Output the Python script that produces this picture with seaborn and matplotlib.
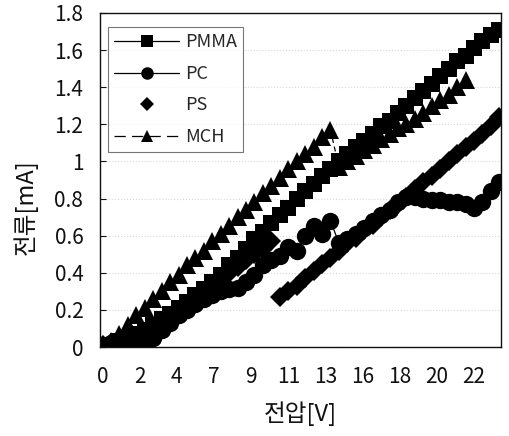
import matplotlib
matplotlib.use("Agg")
import matplotlib.pyplot as plt
import seaborn as sns
import pandas as pd

# ---------------- data ----------------
x_full = [0.0, 0.5, 1.0, 1.5, 2.0, 2.5, 3.0, 3.5, 4.0, 4.5, 5.0, 5.5, 6.0, 6.5, 7.0, 7.5,
          8.0, 8.5, 9.0, 9.5, 10.0, 10.5, 11.0, 11.5, 12.0, 12.5, 13.0, 13.5, 14.0, 14.5,
          15.0, 15.5, 16.0, 16.5, 17.0, 17.5, 18.0, 18.5, 19.0, 19.5, 20.0, 20.5, 21.0,
          21.5, 22.0, 22.5, 23.0, 23.5]
x_mch = [0.0, 0.5, 1.0, 1.5, 2.0, 2.5, 3.0, 3.5, 4.0, 4.5, 5.0, 5.5, 6.0, 6.5, 7.0, 7.5,
         8.0, 8.5, 9.0, 9.5, 10.0, 10.5, 11.0, 11.5, 12.0, 12.5, 13.0, 13.5, 14.0, 14.5,
         15.0, 15.5, 16.0, 16.5, 17.0, 17.5, 18.0, 18.5, 19.0, 19.5, 20.0, 20.5, 21.0, 21.5]

pmma = [0.00, 0.01, 0.03, 0.05, 0.07, 0.09, 0.12, 0.15, 0.18, 0.21, 0.24, 0.28, 0.31, 0.35,
        0.39, 0.44, 0.48, 0.53, 0.58, 0.62, 0.67, 0.71, 0.75, 0.80, 0.84, 0.88, 0.92, 0.96,
        1.00, 1.04, 1.08, 1.11, 1.15, 1.19, 1.22, 1.26, 1.30, 1.34, 1.38, 1.42, 1.46, 1.50,
        1.54, 1.57, 1.61, 1.65, 1.68, 1.71]
pc = [0.00, 0.02, 0.03, 0.04, 0.03, 0.01, 0.05, 0.09, 0.13, 0.17, 0.20, 0.23, 0.26, 0.28,
      0.30, 0.31, 0.32, 0.35, 0.39, 0.44, 0.47, 0.49, 0.54, 0.52, 0.60, 0.65, 0.61, 0.68,
      0.56, 0.58, 0.61, 0.64, 0.68, 0.71, 0.74, 0.78, 0.81, 0.81, 0.80, 0.79, 0.79, 0.78,
      0.78, 0.77, 0.75, 0.78, 0.84, 0.89]
ps = [0.01, 0.02, 0.02, 0.03, 0.02, 0.04, 0.08, 0.11, 0.15, 0.19, 0.22, 0.26, 0.29, 0.33,
      0.37, 0.40, 0.43, 0.47, 0.50, 0.53, 0.57, 0.27, 0.30, 0.33, 0.37, 0.41, 0.45, 0.48,
      0.52, 0.56, 0.59, 0.63, 0.66, 0.70, 0.74, 0.77, 0.81, 0.85, 0.89, 0.92, 0.96, 1.00,
      1.04, 1.08, 1.11, 1.15, 1.19, 1.24]
mch = [0.00, 0.03, 0.07, 0.12, 0.17, 0.21, 0.26, 0.30, 0.35, 0.39, 0.44, 0.48, 0.52, 0.57,
       0.61, 0.65, 0.70, 0.74, 0.78, 0.83, 0.87, 0.91, 0.96, 1.00, 1.04, 1.08, 1.13, 1.17,
       0.97, 1.00, 1.03, 1.06, 1.09, 1.12, 1.15, 1.18, 1.20, 1.23, 1.26, 1.30, 1.33, 1.36,
       1.40, 1.44]

xtick_pos = [0.0, 2.2, 4.4, 6.6, 8.8, 11.0, 13.2, 15.4, 17.6, 19.8, 22.0]
xtick_labels = ['0', '2', '4', '7', '9', '11', '13', '16', '18', '20', '22']
ytick_vals = [0, 0.2, 0.4, 0.6, 0.8, 1.0, 1.2, 1.4, 1.6, 1.8]
ytick_labels = ['0', '0.2', '0.4', '0.6', '0.8', '1', '1.2', '1.4', '1.6', '1.8']

# ---------------- style ----------------
sns.set_theme(style="white")
plt.rcParams['font.family'] = ['Noto Sans CJK KR', 'DejaVu Sans']

fig = plt.figure(figsize=(5.10, 4.36), dpi=100)
ax = fig.add_axes([100 / 510, 1 - 347 / 436, 401 / 510, 334 / 436])

series = [
    ("PMMA", x_full, pmma, 's', '-', 11.5),
    ("PC", x_full, pc, 'o', '-', 12.5),
    ("PS", x_full, ps, 'D', 'none', 10.5),
    ("MCH", x_mch, mch, '^', (0, (4, 3)), 13.0),
]
for name, xs, ys, mk, ls, ms in series:
    df = pd.DataFrame({"V": xs, "I": ys})
    sns.lineplot(data=df, x="V", y="I", ax=ax, color="black", marker=mk,
                 linestyle=ls, linewidth=0.9, markersize=ms, markeredgewidth=0,
                 estimator=None, sort=False, label=name)

ax.set_xlim(-0.15, 23.6)
ax.set_ylim(0, 1.8)
ax.set_xticks(xtick_pos)
ax.set_xticklabels(xtick_labels)
ax.set_yticks(ytick_vals)
ax.set_yticklabels(ytick_labels)
ax.tick_params(axis='x', length=0, pad=14, labelsize=15, colors='#111111')
ax.tick_params(axis='y', direction='in', length=4, width=0.8, pad=12,
               labelsize=15, colors='#111111', left=True)

ax.yaxis.grid(True, color='#d8d8d8', linestyle=':', linewidth=0.8)
ax.set_axisbelow(True)
for sp in ax.spines.values():
    sp.set_color('#111111')
    sp.set_linewidth(1.0)

ax.set_xlabel("전압[V]", fontsize=17, color='#111111', labelpad=9)
ax.set_ylabel("전류[mA]", fontsize=17, color='#111111')
ax.yaxis.set_label_coords(-0.155, 0.42)

leg = ax.legend(loc='upper left', bbox_to_anchor=(0.02, 0.958), borderaxespad=0,
                frameon=True, fancybox=False, fontsize=13, handlelength=3.6,
                handletextpad=0.3, labelspacing=0.75, borderpad=0.35)
leg.get_frame().set_edgecolor('#555555')
leg.get_frame().set_linewidth(0.8)
for h, s in zip(leg.legend_handles, [8.5, 9.0, 7.0, 8.5]):
    h.set_markersize(s)
leg.legend_handles[3].set_linestyle((0, (9, 5)))

fig.savefig("out.png", dpi=100)
